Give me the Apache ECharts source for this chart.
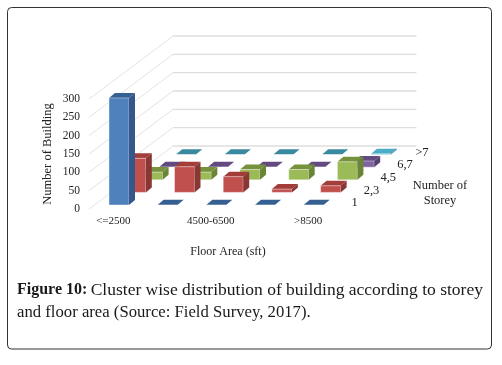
<!DOCTYPE html>
<html><head><meta charset="utf-8">
<style>html,body{margin:0;padding:0;background:#fff}#c{width:502px;height:365px}</style>
<script src="https://cdn.jsdelivr.net/npm/echarts@6/dist/echarts.min.js"></script>
</head><body><div id="c"></div>
<script>
const floorAreas = ['<=2500','2500-4500','4500-6500','6500-8500','>8500'];
const storeys = ['1','2,3','4,5','6,7','>7'];
const yTicks = [0,50,100,150,200,250,300];
const storey1 = [292,1,1,1,1];
const storey23 = [93,70,43,9,18];
const storey45 = [21,21,28,28,49];
const storey67 = [1,1,1,1,17];
const storey7p = [1,1,1,1,2];
const rows = [storey1,storey23,storey45,storey67,storey7p];
const fronts = ['#4f81bd','#c0504d','#9bbb59','#8064a2','#4bacc6'];
const tops = ['#376092','#a33d3a','#77923c','#634b82','#39899f'];
const sides = ['#35578a','#8a3634','#6b8536','#574073','#2f7a8e'];
const rowDX = 16.8, rowDY = 12.6, wallDX = 84, wallDY = 63;
const barW = 20, barDX = 6, barDY = 5, startDX = 20, startDY = 4;
const serif = '"Liberation Serif","Times New Roman",serif';

function wallItem(params, api){
  const p = api.coord([0, api.value(0)]);
  const left = p[0] - api.size([1,0])[0]/2;
  const right = left + api.size([1,0])[0]*floorAreas.length;
  const y = p[1];
  return {type:'group',silent:true,children:[
    {type:'line',shape:{x1:left,y1:y,x2:left+wallDX,y2:y-wallDY},style:{stroke:'#e3e3e3',lineWidth:1}},
    {type:'line',shape:{x1:left+wallDX,y1:y-wallDY,x2:right+wallDX,y2:y-wallDY},style:{stroke:'#dedede',lineWidth:1.3}}
  ]};
}
function barItem(row){
  return function(params, api){
    const c = api.coord([api.value(0),0]);
    const t = api.coord([api.value(0),api.value(1)]);
    const band = api.size([1,0])[0];
    const left = c[0]-band/2;
    const x0 = left + startDX + row*rowDX;
    const yb = c[1] - startDY - row*rowDY;
    const yt = yb - (c[1]-t[1]);
    const x1 = x0 + barW;
    const isFlat = api.value(1) <= 1;
    const top = {type:'polygon',shape:{points:[[x0,yt],[x1,yt],[x1+barDX,yt-barDY],[x0+barDX,yt-barDY]]},
      style:{fill:(row===4&&params.dataIndex===4)?'#4bacc6':tops[row]}};
    const kids = [top];
    if(!isFlat){
      kids.push({type:'rect',shape:{x:x0,y:yt,width:barW,height:yb-yt},style:{fill:fronts[row],stroke:'#fff',lineWidth:0.4}});
      kids.push({type:'polygon',shape:{points:[[x1,yt],[x1+barDX,yt-barDY],[x1+barDX,yb-barDY],[x1,yb]]},style:{fill:sides[row]}});
    }
    return {type:'group',children:kids};
  };
}
function depthLabelItem(params, api){
  const c = api.coord([floorAreas.length-1,0]);
  const i = params.dataIndex;
  return {type:'text',silent:true,style:{
    x:c[0]+ 46.5 + i*rowDX, y:c[1]-6-i*rowDY,
    text:storeys[i],font:'12.5px '+serif,fill:'#222',align:'center',verticalAlign:'middle'}};
}
const series = [{
  type:'custom',silent:true,z:1,renderItem:wallItem,data:yTicks.map(v=>[v]),encode:{y:0}
}];
for(let r=rows.length-1;r>=0;r--){
  series.push({type:'custom',name:storeys[r],z:10+(4-r),renderItem:barItem(r),
    data:rows[r].map((v,i)=>[i,v]),encode:{x:0,y:1}});
}
series.push({type:'custom',silent:true,z:30,renderItem:depthLabelItem,data:storeys.map((s,i)=>[i]),encode:{x:0}});
const chart = echarts.init(document.getElementById('c'),null,{renderer:'canvas'});
chart.setOption({
  animation:false,
  backgroundColor:'#fff',
  grid:{left:89,top:99,width:243.5,height:110,containLabel:false},
  xAxis:{type:'category',data:floorAreas,
    axisLine:{show:false},axisTick:{show:false},splitLine:{show:false},
    axisLabel:{interval:1,margin:7,color:'#222',fontFamily:serif,fontSize:11}},
  yAxis:{type:'value',min:0,max:300,interval:50,
    name:'Number of Building',nameLocation:'middle',nameGap:35,nameRotate:90,
    nameTextStyle:{color:'#222',fontFamily:serif,fontSize:12.5},
    axisLine:{show:false},axisTick:{show:false},splitLine:{show:false},
    axisLabel:{margin:9,color:'#222',fontFamily:serif,fontSize:11.5}},
  series,
  graphic:[
    {type:'rect',shape:{x:7.5,y:7.5,width:484,height:341.5,r:4},style:{fill:'none',stroke:'#333',lineWidth:1},z:0},
    {type:'text',style:{x:228,y:252,text:'Floor Area (sft)',font:'12px '+serif,fill:'#222',align:'center',verticalAlign:'middle'}},
    {type:'text',style:{x:440,y:193,text:'Number of\nStorey',font:'12.5px '+serif,fill:'#222',align:'center',verticalAlign:'middle',lineHeight:15}},
    {type:'text',style:{x:17,y:301.5,
      text:'{b|Figure 10:} {r|Cluster wise distribution of building according to storey}\n{s|and floor area (Source: Field Survey, 2017).}',
      rich:{b:{font:'bold 16px '+serif,fill:'#1a1a1a',lineHeight:23},r:{font:'17.5px '+serif,fill:'#1a1a1a',lineHeight:23},s:{font:'16.7px '+serif,fill:'#1a1a1a',lineHeight:23}},
      verticalAlign:'middle',align:'left'}}
  ]
});
</script></body></html>
